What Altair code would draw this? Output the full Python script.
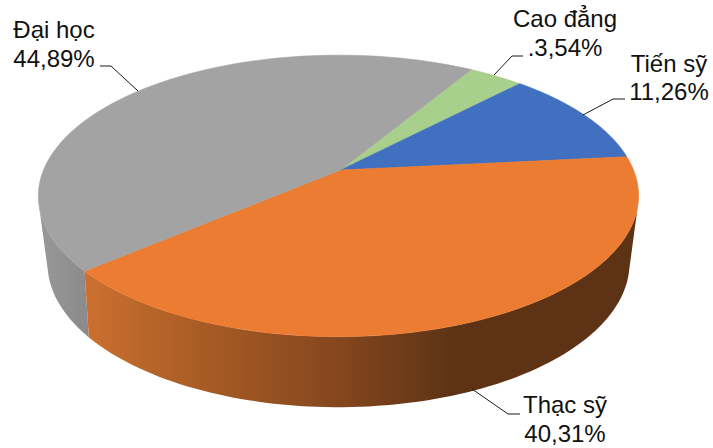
import math
import altair as alt

# Shares of staff by qualification, in the order they run clockwise on the pie
categories = ["Cao đẳng", "Tiến sỹ", "Thạc sỹ", "Đại học"]
shares = [3.54, 11.26, 40.31, 44.89]
share_labels = [".3,54%", "11,26%", "40,31%", "44,89%"]
face_colors = ["#A8D08C", "#4270C0", "#EB7C31", "#A3A3A3"]

# Label anchors (centre of text, baselines of both rows) and leader polylines
label_x = [565, 669, 565, 54]
label_y1 = [27, 72, 413, 38]
label_y2 = [56, 100, 442, 67]
leaders = [
    [(523, 56), (512, 56), (494, 75)],
    [(625, 99), (613, 99), (583, 115)],
    [(520, 414), (508, 414), (472, 389)],
    [(100, 66), (111, 66), (138, 91)],
]

# Perspective of the disc: apex position, radii and foreshortening
TOP = dict(cx=340.5, cy=170, r=295, b=136, k=-0.184, m=0.0067)
BOTTOM = dict(cx=340.5, cy=233, r=284.5, b=137.6, k=-0.21, m=0.0067)
START_DEG = -59.0
RIGHT_EDGE_DEG = 15.0
LEFT_EDGE_DEG = 165.0


def project(disc, deg):
    u, v = math.cos(math.radians(deg)), math.sin(math.radians(deg))
    w = 1 + disc["k"] * v + disc["m"] * u
    return [disc["cx"] + disc["r"] * u / w, disc["cy"] + disc["b"] * v / w]


def arc(disc, a, b, steps=90):
    return [project(disc, a + (b - a) * i / steps) for i in range(steps + 1)]


def polygon_chart(ring, fill):
    ring = ring + [ring[0]]
    feature = {
        "type": "Feature",
        "properties": {},
        "geometry": {"type": "Polygon", "coordinates": [ring]},
    }
    mark = {"fill": fill, "strokeWidth": 0}
    if isinstance(fill, str):
        mark.update(stroke=fill, strokeWidth=0.6)
    return alt.Chart(alt.Data(values=[feature])).mark_geoshape(**mark).project(
        type="identity", scale=1, translate=[0, 0]
    )


# Angle boundaries of each slice
bounds = [START_DEG]
for s in shares:
    bounds.append(bounds[-1] + s * 3.6)

orange_end = bounds[3]
WALL_LEFT, WALL_RIGHT = 83.0, 637.0


def stop(x):
    return (x - WALL_LEFT) / (WALL_RIGHT - WALL_LEFT)


orange_wall_fill = alt.LinearGradient(
    gradient="linear",
    x1=0, x2=1, y1=0, y2=0,
    stops=[
        alt.GradientStop(offset=0, color="#CC7030"),
        alt.GradientStop(offset=stop(200), color="#A85C24"),
        alt.GradientStop(offset=stop(340), color="#84461E"),
        alt.GradientStop(offset=stop(450), color="#5E3315"),
        alt.GradientStop(offset=1, color="#5E3315"),
    ],
)
gray_wall_fill = alt.LinearGradient(
    gradient="linear",
    x1=0, x2=1, y1=0, y2=0,
    stops=[
        alt.GradientStop(offset=0, color="#999999"),
        alt.GradientStop(offset=1, color="#8A8A8A"),
    ],
)

layers = [
    polygon_chart(
        arc(TOP, orange_end, LEFT_EDGE_DEG) + arc(BOTTOM, LEFT_EDGE_DEG, orange_end),
        gray_wall_fill,
    ),
    polygon_chart(
        arc(TOP, RIGHT_EDGE_DEG, orange_end) + arc(BOTTOM, orange_end, RIGHT_EDGE_DEG),
        orange_wall_fill,
    ),
]

# Top faces, each a wedge from the apex
for i, color in enumerate(face_colors):
    ring = [[TOP["cx"], TOP["cy"]]] + arc(TOP, bounds[i], bounds[i + 1])
    layers.append(polygon_chart(ring, color))

px_x = alt.Scale(domain=[0, 713], range=[0, 713])
px_y = alt.Scale(domain=[0, 448], range=[0, 448])

leader_rows = [
    {"cat": categories[i], "ord": j, "x": p[0], "y": p[1]}
    for i, line in enumerate(leaders)
    for j, p in enumerate(line)
]
layers.append(
    alt.Chart(alt.Data(values=leader_rows)).mark_line(color="#1A1A1A", strokeWidth=1).encode(
        x=alt.X("x:Q", scale=px_x, axis=None),
        y=alt.Y("y:Q", scale=px_y, axis=None),
        detail="cat:N",
        order="ord:Q",
    )
)

label_rows = []
for i, cat in enumerate(categories):
    label_rows.append({"t": cat, "x": label_x[i], "y": label_y1[i]})
    label_rows.append({"t": share_labels[i], "x": label_x[i], "y": label_y2[i]})
layers.append(
    alt.Chart(alt.Data(values=label_rows)).mark_text(
        font="Liberation Sans", fontSize=24, color="#111111", align="center", baseline="alphabetic"
    ).encode(
        x=alt.X("x:Q", scale=px_x, axis=None),
        y=alt.Y("y:Q", scale=px_y, axis=None),
        text="t:N",
    )
)

chart = alt.layer(*layers).properties(
    width=713,
    height=448,
    padding=0,
    autosize=alt.AutoSizeParams(type="none"),
    background="white",
).configure_view(stroke=None)

chart.save("out.html", embed_options={"renderer": "svg", "actions": False})
